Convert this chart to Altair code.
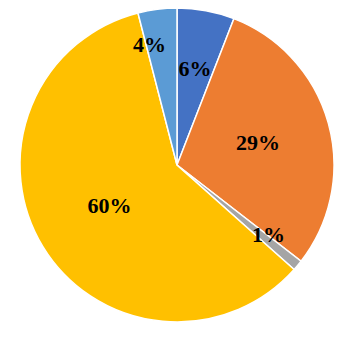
import altair as alt
import pandas as pd

categories = ["A", "B", "C", "D", "E"]
values = [5.9, 29.6, 1.1, 59.4, 4.0]
labels = ["6%", "29%", "1%", "60%", "4%"]
colors = ["#4472C4", "#ED7D31", "#A5A5A5", "#FFC000", "#5B9BD5"]

df = pd.DataFrame({"cat": categories, "value": values, "label": labels,
                   "order": list(range(len(categories)))})

base = alt.Chart(df).transform_window(
    cum="sum(value)", sort=[alt.SortField("order")]
).transform_calculate(
    start="datum.cum - datum.value",
    mid="datum.cum - datum.value / 2",
    lt="datum.value < 2 ? datum.cum - datum.value / 2 - 0.7 : datum.value < 5 ? datum.cum - datum.value / 2 - 1.6 : datum.cum - datum.value / 2",
    lr="datum.value < 2 ? 115 : datum.value < 5 ? 123 : datum.value < 10 ? 98 : datum.value < 50 ? 84 : 79",
)

tscale = alt.Scale(domain=[0, sum(values)], range=[0, 6.283185307179586])
CX, CY = 169, 157

pie = base.mark_arc(outerRadius=157, stroke="white", strokeWidth=1.5).encode(
    theta=alt.Theta("start:Q", scale=tscale),
    theta2="cum:Q",
    color=alt.Color("cat:N", scale=alt.Scale(domain=categories, range=colors), legend=None),
    x=alt.value(CX), y=alt.value(CY),
)

text = base.mark_text(font="Liberation Serif", fontWeight="bold", fontSize=22, color="black").encode(
    theta=alt.Theta("lt:Q", scale=tscale),
    text="label:N",
    radius=alt.Radius("lr:Q", scale=None),
    x=alt.value(CX), y=alt.value(CY),
)

chart = (pie + text).properties(
    width=326, height=320, autosize=alt.AutoSizeParams(type="none"), padding=0
).configure_view(stroke=None)

chart.save("out.html", embed_options={"renderer": "svg", "actions": False})
